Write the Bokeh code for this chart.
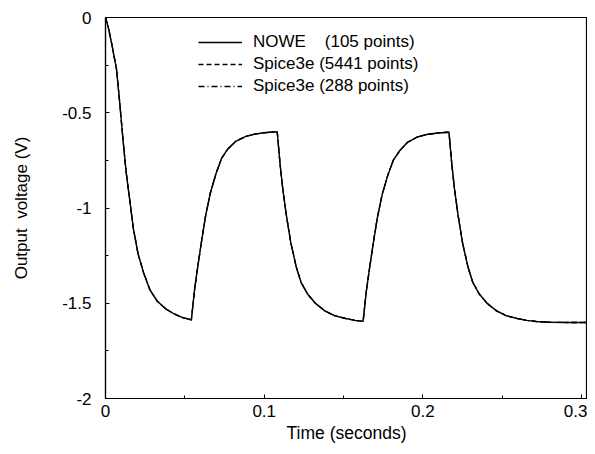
from bokeh.plotting import figure
from bokeh.models import (FixedTicker, CustomJSTickFormatter, Legend,
                          LegendItem, Range1d, ColumnDataSource)
from bokeh.embed import file_html
from bokeh.resources import INLINE

# Time (s) and output voltage (V)
time_s = [
    0.0000, 0.0020, 0.0042, 0.0069, 0.0090, 0.0110, 0.0130, 0.0153, 0.0176, 0.0205,
    0.0240, 0.0280, 0.0327, 0.0380, 0.0430, 0.0485, 0.0541,
    0.0561, 0.0581, 0.0606, 0.0631, 0.0661, 0.0696, 0.0731, 0.0771, 0.0821, 0.0881,
    0.0941, 0.1011, 0.1082,
    0.1100, 0.1117, 0.1138, 0.1167, 0.1202, 0.1232, 0.1272, 0.1322, 0.1382, 0.1442,
    0.1512, 0.1572, 0.1623,
    0.1643, 0.1663, 0.1688, 0.1713, 0.1743, 0.1778, 0.1813, 0.1853, 0.1903, 0.1963,
    0.2023, 0.2093, 0.2164,
    0.2182, 0.2199, 0.2220, 0.2249, 0.2284, 0.2314, 0.2354, 0.2404, 0.2464, 0.2524,
    0.2594, 0.2654, 0.2717, 0.2800, 0.2900, 0.3000, 0.3088,
]
volts = [
    0.000, -0.060, -0.150, -0.270, -0.450, -0.640, -0.810, -0.960, -1.110, -1.240,
    -1.340, -1.430, -1.490, -1.530, -1.555, -1.575, -1.587,
    -1.430, -1.310, -1.170, -1.040, -0.920, -0.820, -0.740, -0.690, -0.650, -0.625,
    -0.612, -0.604, -0.600,
    -0.770, -0.900, -1.030, -1.180, -1.310, -1.390, -1.450, -1.500, -1.540, -1.565,
    -1.580, -1.590, -1.595,
    -1.440, -1.320, -1.180, -1.050, -0.930, -0.830, -0.750, -0.700, -0.655, -0.628,
    -0.614, -0.606, -0.602,
    -0.770, -0.900, -1.030, -1.180, -1.310, -1.390, -1.450, -1.500, -1.540, -1.565,
    -1.580, -1.590, -1.596, -1.600, -1.601, -1.601, -1.601,
]

series_labels = ["NOWE\u00a0\u00a0\u00a0\u00a0(105 points)",
                 "Spice3e (5441 points)",
                 "Spice3e (288 points)"]
x_ticks = [0, 0.1, 0.2, 0.3]
x_minor = [0.05, 0.15, 0.25]
y_ticks = [-2, -1.5, -1, -0.5, 0]
y_minor = [-1.75, -1.25, -0.75, -0.25]

FONT = "Liberation Sans"

src = ColumnDataSource(dict(t=time_s, v=volts))

p = figure(width=587, height=446, output_backend="svg", toolbar_location=None,
           x_range=Range1d(0, 0.3037), y_range=Range1d(-2, 0),
           min_border_left=105, min_border_right=0, min_border_top=17,
           min_border_bottom=48)
p.grid.visible = False
p.outline_line_color = "black"
p.outline_line_width = 1.2
p.background_fill_color = "white"
p.border_fill_color = "white"

r3 = p.line("t", "v", source=src, line_color="black", line_width=1.3, line_dash="6 3 1 3")
r2 = p.line("t", "v", source=src, line_color="black", line_width=1.3, line_dash="5 3")
r1 = p.line("t", "v", source=src, line_color="black", line_width=1.4)

fmt = CustomJSTickFormatter(code="return tick.toString();")

def style(ax, ticks, minor):
    ax.ticker = FixedTicker(ticks=ticks, minor_ticks=minor)
    ax.formatter = fmt
    ax.major_tick_in = 4
    ax.major_tick_out = 0
    ax.minor_tick_in = 3
    ax.minor_tick_out = 0
    ax.axis_line_color = "black"
    ax.axis_line_width = 1.2
    ax.major_tick_line_color = "black"
    ax.minor_tick_line_color = "black"
    ax.major_label_text_font = FONT
    ax.major_label_text_font_size = "17px"
    ax.major_label_text_color = "black"
    ax.axis_label_text_font = FONT
    ax.axis_label_text_font_size = "17.5px"
    ax.axis_label_text_font_style = "normal"
    ax.axis_label_text_color = "black"

xa = p.xaxis[0]
ya = p.yaxis[0]
style(xa, x_ticks, x_minor)
style(ya, y_ticks, y_minor)
xa.axis_label = "Time (seconds)"
xa.major_label_standoff = 6
xa.axis_label_standoff = 3
ya.axis_label = "Output\u00a0 voltage (V)"
ya.axis_label_text_font_size = "17px"
ya.major_label_standoff = 14
ya.axis_label_standoff = 28

legend = Legend(items=[LegendItem(label=series_labels[0], renderers=[r1]),
                       LegendItem(label=series_labels[1], renderers=[r2]),
                       LegendItem(label=series_labels[2], renderers=[r3])],
                location=(93, 301), border_line_color=None,
                background_fill_alpha=0, padding=0, margin=0, spacing=0,
                label_height=22, glyph_height=22, glyph_width=44,
                label_standoff=11, label_text_font=FONT,
                label_text_font_size="17px", label_text_color="black")
p.add_layout(legend)

open("out.html", "w").write(file_html(p, INLINE))
